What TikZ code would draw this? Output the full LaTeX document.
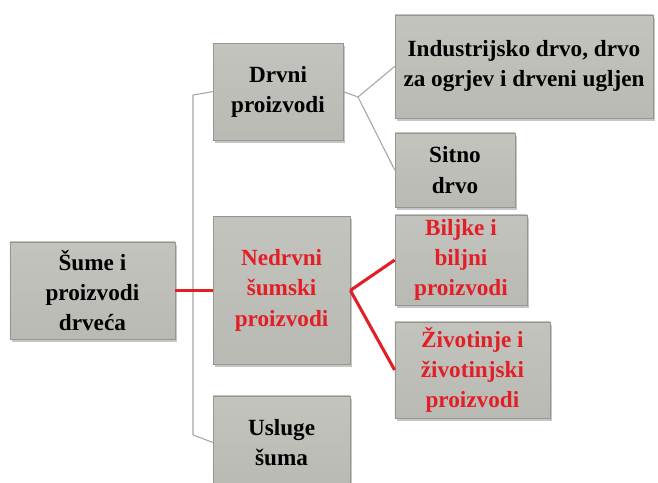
\documentclass[tikz,border=0pt]{standalone}
\usepackage{fontspec}
\setmainfont{Liberation Serif}
\usepackage{tikz}
\usepackage{xcolor}
\usetikzlibrary{shadows, positioning}
\definecolor{sume-red}{RGB}{226,30,38}
\definecolor{sume-line}{RGB}{165,165,160}
\definecolor{sume-top}{RGB}{228,228,222}
\definecolor{sume-mid}{RGB}{198,198,192}
\definecolor{sume-bot}{RGB}{150,150,144}
\pgfdeclareverticalshading{sumebevel}{100bp}{color(0bp)=(sume-bot); color(7bp)=(sume-mid!92!black); color(88bp)=(sume-mid); color(95bp)=(sume-top); color(100bp)=(sume-top)}

\begin{document}
\begin{tikzpicture}[
  box/.style={draw=sume-bot, line width=0.4pt, shading=sumebevel, align=center, inner sep=2pt, font=\fontsize{16.5}{21.5}\selectfont\bfseries, drop shadow={shadow xshift=0.05cm, shadow yshift=-0.07cm, opacity=0.45}},
  redbox/.style={box, text=sume-red},
  link/.style={sume-line, line width=0.75pt},
  redlink/.style={sume-red, line width=2.2pt},
]
  \useasboundingbox (0,0) rectangle (16.45,-12.075);
  \clip (0,0) rectangle (16.45,-12.075);

  % Root
  \node[box, minimum width=4.125cm, minimum height=2.425cm] (root) at (2.31,-7.26) {Šume i\\proizvodi\\drveća};

  % Level 1
  \node[box, minimum width=3.25cm, minimum height=2.425cm] (drvni) at (6.95,-2.29) {Drvni\\proizvodi};
  \node[redbox, minimum width=3.425cm, minimum height=3.7cm] (nedrvni) at (7.04,-7.26) {Nedrvni\\šumski\\proizvodi};
  \node[box, minimum width=3.425cm, minimum height=2.325cm] (usluge) at (7.04,-11.06) {Usluge\\šuma};

  % Level 2
  \node[box, minimum width=6.45cm, minimum height=2.575cm] (ind) at (13.1,-1.66) {Industrijsko drvo, drvo\\za ogrjev i drveni ugljen};
  \node[box, minimum width=3.0cm, minimum height=1.85cm] (sitno) at (11.375,-4.25) {Sitno\\drvo};
  \node[redbox, minimum width=3.3cm, minimum height=2.25cm] (biljke) at (11.525,-6.5) {Biljke i\\biljni\\proizvodi};
  \node[redbox, minimum width=3.875cm, minimum height=2.4cm] (ziv) at (11.81,-9.25) {Životinje i\\životinjski\\proizvodi};

  % Trunk
  \coordinate (trunktop) at (4.825,-2.375);
  \coordinate (trunkbot) at (4.825,-10.875);
  \coordinate (drfork) at (8.95,-2.425);

  % Links
  \draw[link] (drvni.west) -- (trunktop) -- (trunkbot) -- (usluge.west);
  \draw[redlink] (root.east) -- (nedrvni.west);

  \draw[link] (drvni.east) -- (drfork);
  \draw[link] (drfork) -- (ind.west);
  \draw[link] (drfork) -- (sitno.west);

  \draw[redlink] (nedrvni.east) -- (biljke.west);
  \draw[redlink] (nedrvni.east) -- (ziv.west);
\end{tikzpicture}
\end{document}
